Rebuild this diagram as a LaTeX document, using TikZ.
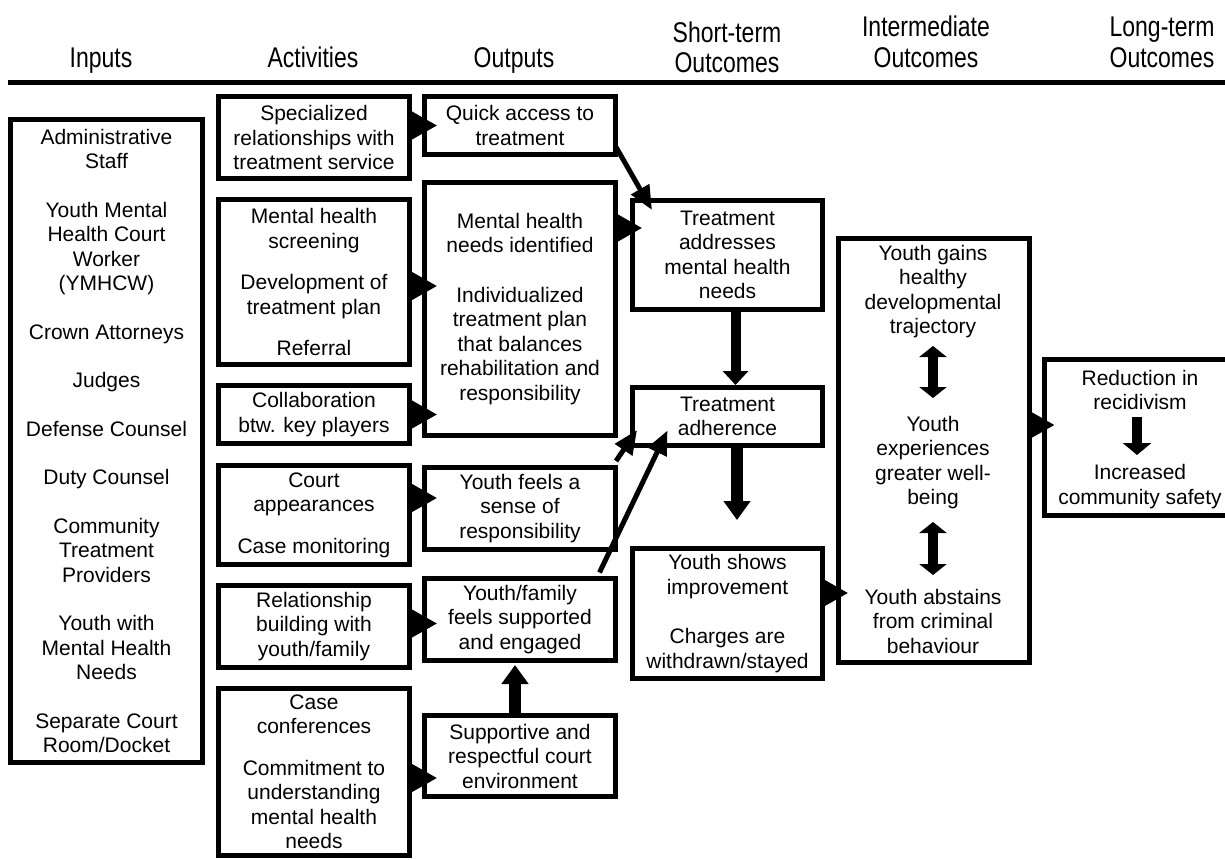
\documentclass[tikz,border=0pt]{standalone}
\usepackage{fontspec}
\setmainfont{Liberation Sans}
\usetikzlibrary{arrows.meta,calc}
\newcommand\bodyfont{\fontsize{21pt}{24.5pt}\selectfont}
\newcommand\headfont{\fontsize{25pt}{30pt}\selectfont}
\newcommand\hdtxt[1]{\scalebox{0.92}[1.14]{#1}}
\begin{document}
\begin{tikzpicture}[x=1pt,y=-1pt,
  box/.style={draw, line width=5pt, fill=white, inner sep=0pt, align=center, font=\bodyfont},
  hd/.style={font=\headfont, inner sep=0pt, anchor=base},
  txt/.style={align=center, font=\bodyfont, inner sep=0pt},
  conn/.style={line width=5pt, -{Triangle[length=27pt,width=29pt]}, shorten >=#1},
  conn/.default=-15pt,
  diag/.style={line width=5pt, -{Triangle[length=24pt,width=20pt]}},
  fat/.style={line width=12pt, -{Triangle[length=19pt,width=26pt]}},
  thin fat/.style={line width=10pt, -{Triangle[length=14pt,width=25pt]}},
  dbl/.style={line width=10pt, {Triangle[length=11pt,width=27pt]}-{Triangle[length=11pt,width=27pt]}}
]
\useasboundingbox (0,0) rectangle (1225,859);
\clip (0,0) rectangle (1225,859);

% headers
\node[hd] (h1) at (101,67) {\hdtxt{Inputs}};
\node[hd] (h2) at (313,67) {\hdtxt{Activities}};
\node[hd] (h3) at (514,67) {\hdtxt{Outputs}};
\node[hd] (h4) at (727,43) {\hdtxt{Short-term}};
\node[hd] (h4b) at (727,73) {\hdtxt{Outcomes}};
\node[hd] (h5) at (926,37) {\hdtxt{Intermediate}};
\node[hd] (h5b) at (926,67) {\hdtxt{Outcomes}};
\node[hd] (h6) at (1162,37) {\hdtxt{Long-term}};
\node[hd] (h6b) at (1162,67) {\hdtxt{Outcomes}};
\draw[line width=5pt] (8,82) -- (1225,82);

% inputs
\node[box, minimum width=192pt, minimum height=643pt] (inp) at (106.5,441)
  {Administrative\\Staff\\[24pt]Youth Mental\\Health Court\\Worker\\(YMHCW)\\[24pt]Crown Attorneys\\[24pt]Judges\\[24pt]Defense Counsel\\[24pt]Duty Counsel\\[24pt]Community\\Treatment\\Providers\\[24pt]Youth with\\Mental Health\\Needs\\[24pt]Separate Court\\Room/Docket};

% activities
\node[box, minimum width=191pt, minimum height=82pt] (a1) at (314,137.5)
  {Specialized\\relationships with\\treatment service};
\node[box, minimum width=191pt, minimum height=165pt] (a2) at (314,282)
  {Mental health\\screening\\[17pt]Development of\\treatment plan\\[17pt]Referral};
\node[box, minimum width=191pt, minimum height=58pt] (a3) at (314,414.5)
  {Collaboration\\btw. key players};
\node[box, minimum width=191pt, minimum height=99pt] (a4) at (314,515)
  {Court\\appearances\\[17pt]Case monitoring};
\node[box, minimum width=191pt, minimum height=82pt] (a5) at (314,626.5)
  {Relationship\\building with\\youth/family};
\node[box, minimum width=191pt, minimum height=167pt] (a6) at (314,772)
  {Case\\conferences\\[17pt]Commitment to\\understanding\\mental health\\needs};

% outputs
\node[box, minimum width=191pt, minimum height=58pt] (o1) at (520,125.5)
  {Quick access to\\treatment};
\node[box, minimum width=191pt, minimum height=253pt] (o2) at (520,309)
  {Mental health\\needs identified\\[25pt]Individualized\\treatment plan\\that balances\\rehabilitation and\\responsibility};
\node[box, minimum width=191pt, minimum height=82pt] (o3) at (520,508.5)
  {Youth feels a\\sense of\\responsibility};
\node[box, minimum width=191pt, minimum height=82pt] (o4) at (520,619.5)
  {Youth/family\\feels supported\\and engaged};
\node[box, minimum width=191pt, minimum height=81pt] (o5) at (520,756)
  {Supportive and\\respectful court\\environment};

% short-term
\node[box, minimum width=190pt, minimum height=109pt] (s1) at (727.5,255)
  {Treatment\\addresses\\mental health\\needs};
\node[box, minimum width=190pt, minimum height=58pt] (s2) at (727.5,416.5)
  {Treatment\\adherence};
\node[box, minimum width=190pt, minimum height=130pt] (s3) at (727.5,613.5)
  {Youth shows\\improvement\\[25pt]Charges are\\withdrawn/stayed};

% intermediate
\node[box, minimum width=191pt, minimum height=424pt] (im) at (934,450.5) {};
\node[txt] (im1) at (933,291.5) {Youth gains\\healthy\\developmental\\trajectory};
\node[txt] (im2) at (933,462.5) {Youth\\experiences\\greater well-\\being};
\node[txt] (im3) at (933,621) {Youth abstains\\from criminal\\behaviour};
\coordinate (d1a) at (933,346);
\coordinate (d1b) at (933,398);
\coordinate (d2a) at (933,522);
\coordinate (d2b) at (933,575);
\draw[dbl] (d1a) -- (d1b);
\draw[dbl] (d2a) -- (d2b);

% long-term
\node[box, minimum width=191pt, minimum height=156pt] (lt) at (1140,437.5) {};
\node[txt] (l1) at (1140,390) {Reduction in\\recidivism};
\node[txt] (l2) at (1140,486.5) {Increased\\community safety};
\coordinate (la) at (1137,417);
\coordinate (lb) at (1137,455);
\draw[thin fat, -{Triangle[length=12pt,width=28pt]}] (la) -- (lb);

% activities -> outputs
\draw[conn] (a1.east |- o1.west) -- (o1.west);
\draw[conn] ($(a2.east)+(0,4)$) -- ($(a2.east -| o2.west)+(0,4)$);
\draw[conn] (a3.east) -- (a3.east -| o2.west);
\draw[conn] ($(a4.east)+(0,-17)$) -- ($(a4.east -| o3.west)+(0,-17)$);
\draw[conn] ($(a5.east)+(0,-3)$) -- ($(a5.east -| o4.west)+(0,-3)$);
\draw[conn] ($(a6.east)+(0,6)$) -- ($(a6.east -| o5.west)+(0,6)$);

% outputs -> short-term
\draw[conn=-12pt] ($(o2.east |- s1.west)+(0,-27)$) -- ($(s1.west)+(0,-27)$);
\draw[diag] ($(o1.south east)+(-2,-10)$) -- ($(s1.north west)+(22,12)$);
\draw[diag] ($(o3.north east)+(-2,-4)$) -- ($(s2.south west)+(7,-18)$);
\draw[diag] ($(o4.north east)+(-18.5,-3.5)$) -- ($(s2.south west)+(37.5,-17.5)$);
\draw[fat] ($(o5.north)+(-5,0)$) -- ($(o4.south)+(-5,2)$);

% short-term chain
\draw[thin fat] ($(s1.south)+(8,0)$) -- ($(s2.north)+(8,0)$);
\coordinate (sfree) at (737,520);
\draw[fat] ($(s2.south)+(9.5,0)$) -- (sfree);

% short-term -> intermediate -> long-term
\draw[conn=-12pt] ($(s3.east)+(0,-20.5)$) -- ($(s3.east -| im.west)+(0,-20.5)$);
\draw[conn=-12.5pt] ($(im.east)+(0,-25.5)$) -- ($(im.east -| lt.west)+(0,-25.5)$);
\end{tikzpicture}
\end{document}
